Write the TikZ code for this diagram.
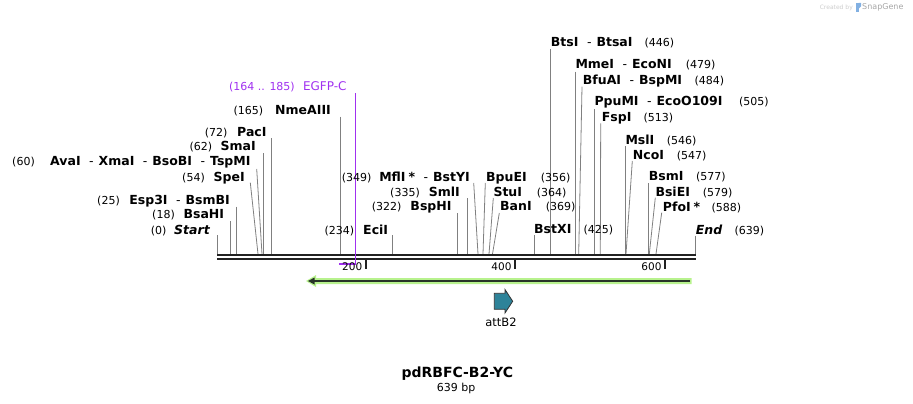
\documentclass[tikz,border=0pt]{standalone}
\usepackage{fontspec}
\setmainfont{DejaVu Sans}
\definecolor{cutgray}{RGB}{128,128,128}
\definecolor{egfp}{RGB}{160,48,240}
\definecolor{lgreen}{RGB}{184,242,142}
\definecolor{dgreen}{RGB}{40,52,40}
\definecolor{teal}{RGB}{46,131,153}
\definecolor{bbone}{RGB}{34,34,34}
\newcommand{\mydash}{\hspace{8.5pt}{\mdseries -}\hspace{5pt}}
\tikzset{
  nm/.style={inner sep=0pt, text height=8.5pt, text depth=0pt, font=\fontsize{12.5}{14}\selectfont\bfseries},
  num/.style={inner sep=0pt, text height=8.5pt, text depth=0pt, font=\fontsize{11}{13}\selectfont},
  cutline/.style={draw=cutgray, line width=0.8pt},
  ticklab/.style={inner sep=0pt, font=\fontsize{10.5}{12}\selectfont},
}
\begin{document}
\begin{tikzpicture}[x=1pt,y=-1pt]
\useasboundingbox (0,0) rectangle (913,404);
% watermark
\node[inner sep=0pt, anchor=east, text=black!20, font=\fontsize{6}{7}\selectfont] (wm1) at (853,7.5) {Created by};
\fill[cyan!60!blue!50] (856,3) rectangle (858.5,12);
\fill[cyan!60!blue!50] (858.5,3) -- (861,3) .. controls (862,5) and (861,8) .. (858.5,9) -- cycle;
\node[inner sep=0pt, anchor=west, text=black!35, font=\fontsize{8}{9}\selectfont] (wm2) at (862,7.5) {SnapGene};

% cut site connectors
\foreach \n/\tx/\ty/\bx in {
  Start/217.3/235/217.3, BsaHI/230.5/221/230.5, Esp/236.3/206.7/236.3,
  SpeI/250.3/182.7/258, AvaI/256.7/169/262, SmaI/263.3/153/263.3,
  PacI/271.3/138/271.3, Nme/340.3/116.7/340.3, EciI/392.3/235/392.3,
  BspHI/457.3/213/457.3, SmlI/467.3/198/467.3, MflI/473.7/183/478,
  BpuEI/485.3/183/483, StuI/493.3/198/489, BanI/499.3/213/492.5,
  BstXI/534.5/235/534.5, BtsI/550.5/49/550.5, MmeI/575.3/71.7/575.3,
  BfuAI/582/86.7/578.7, PpuMI/594.3/109/594.3, FspI/600.7/123.3/600.3,
  MslI/625.3/146/625.3, NcoI/632.3/161/626, BsmI/648.7/183.3/648.7,
  BsiEI/655.3/197.7/649.3, PfoI/661.7/212.7/656, End/695.7/235.7/695.7} {
  \coordinate (t\n) at (\tx,\ty);
  \coordinate (b\n) at (\bx,254);
  \draw[cutline] (t\n) -- (b\n);
}

% EGFP-C feature
\coordinate (eTop) at (355.3,93);
\coordinate (eCorner) at (355.3,263.7);
\coordinate (eLeft) at (339.3,263.7);
\draw[egfp, line width=0.9pt] (eTop) -- (355.3,262.9);
\draw[egfp, line width=1.6pt] (eCorner) -- (eLeft);

% backbone
\draw[bbone, line width=2pt] (217.3,255) -- (695.7,255);
\draw[bbone, line width=2pt] (217.3,259.3) -- (695.7,259.3);
\draw[egfp, line width=0.9pt] (355.3,254) -- (355.3,264.5);

% ticks
\foreach \x/\l in {365.7/200, 515/400, 665/600} {
  \draw[bbone, line width=1.6pt] (\x,259) -- (\x,268.5);
  \node[ticklab, anchor=east] (tick\l) at (\x-3.3,267) {\l};
}

% green arrow (reverse)
\fill[lgreen] (691.7,278) -- (316,278) -- (316,275) -- (306,281) -- (316,287) -- (316,284) -- (691.7,284) -- cycle;
\draw[dgreen, line width=2pt] (690,281) -- (313,281);
\fill[dgreen] (308,281) -- (314.5,277.5) -- (314.5,284.5) -- cycle;

% attB2
\draw[fill=teal, draw=black!80, line width=0.8pt] (494.3,293.3) -- (505,293.3) -- (505,289.5) -- (512.7,301.3) -- (505,313) -- (505,309.3) -- (494.3,309.3) -- cycle;
\node[inner sep=0pt, font=\fontsize{11.5}{13}\selectfont] (attB2) at (501,322) {attB2};

% left-side labels
\node[nm, anchor=east] (nStart) at (210,230) {\itshape Start};
\node[num, anchor=east] (pStart) at (166.7,230) {(0)};
\node[nm, anchor=east] (nBsaHI) at (224.3,214.3) {BsaHI};
\node[num, anchor=east] (pBsaHI) at (175,214.3) {(18)};
\node[nm, anchor=east] (nEsp) at (230,200) {Esp3I\mydash BsmBI};
\node[num, anchor=east] (pEsp) at (120,200) {(25)};
\node[nm, anchor=east] (nSpeI) at (245,177.3) {SpeI};
\node[num, anchor=east] (pSpeI) at (205,177.3) {(54)};
\node[nm, anchor=east] (nAvaI) at (250.7,161.7) {AvaI\mydash XmaI\mydash BsoBI\mydash TspMI};
\node[num, anchor=east] (pAvaI) at (35,161.7) {(60)};
\node[nm, anchor=east] (nSmaI) at (256,146.7) {SmaI};
\node[num, anchor=east] (pSmaI) at (212.3,146.7) {(62)};
\node[nm, anchor=east] (nPacI) at (266.7,132) {PacI};
\node[num, anchor=east] (pPacI) at (227.7,132) {(72)};
\node[nm, anchor=east] (nNme) at (331,110) {NmeAIII};
\node[num, anchor=east] (pNme) at (263.3,110) {(165)};
\node[inner sep=0pt, text height=8.5pt, text depth=0pt, anchor=east, text=egfp, font=\fontsize{12}{14}\selectfont] (nEGFP) at (346.7,86) {EGFP-C};
\node[num, anchor=east, text=egfp] (pEGFP) at (295,86) {(164 .. 185)};
\node[nm, anchor=east] (nEciI) at (388.3,230) {EciI};
\node[num, anchor=east] (pEciI) at (354.3,230) {(234)};
\node[nm, anchor=east] (nMflI) at (470,177) {MflI\hspace{3pt}*\mydash BstYI};
\node[num, anchor=east] (pMflI) at (371.7,177) {(349)};
\node[nm, anchor=east] (nSmlI) at (460,192.3) {SmlI};
\node[num, anchor=east] (pSmlI) at (420,192.3) {(335)};
\node[nm, anchor=east] (nBspHI) at (451.7,206.7) {BspHI};
\node[num, anchor=east] (pBspHI) at (401.7,206.7) {(322)};

% right-side labels
\node[nm, anchor=west] (nBpuEI) at (486,177) {BpuEI};
\node[num, anchor=west] (pBpuEI) at (540.7,177) {(356)};
\node[nm, anchor=west] (nStuI) at (493.3,192.3) {StuI};
\node[num, anchor=west] (pStuI) at (536.7,192.3) {(364)};
\node[nm, anchor=west] (nBanI) at (500,206.7) {BanI};
\node[num, anchor=west] (pBanI) at (545.7,206.7) {(369)};
\node[nm, anchor=west] (nBstXI) at (534,229.5) {BstXI};
\node[num, anchor=west] (pBstXI) at (583.3,229.5) {(425)};
\node[nm, anchor=west] (nBtsI) at (550.7,42.7) {BtsI\mydash BtsaI};
\node[num, anchor=west] (pBtsI) at (644.3,42.7) {(446)};
\node[nm, anchor=west] (nMmeI) at (575.3,64.7) {MmeI\mydash EcoNI};
\node[num, anchor=west] (pMmeI) at (685.7,64.7) {(479)};
\node[nm, anchor=west] (nBfuAI) at (582.7,80) {BfuAI\mydash BspMI};
\node[num, anchor=west] (pBfuAI) at (694.3,80) {(484)};
\node[nm, anchor=west] (nPpuMI) at (594.3,101.7) {PpuMI\mydash EcoO109I};
\node[num, anchor=west] (pPpuMI) at (739,101.7) {(505)};
\node[nm, anchor=west] (nFspI) at (601.7,117.3) {FspI};
\node[num, anchor=west] (pFspI) at (643.3,117.3) {(513)};
\node[nm, anchor=west] (nMslI) at (625.3,140) {MslI};
\node[num, anchor=west] (pMslI) at (666.7,140) {(546)};
\node[nm, anchor=west] (nNcoI) at (632.7,155.3) {NcoI};
\node[num, anchor=west] (pNcoI) at (676.7,155.3) {(547)};
\node[nm, anchor=west] (nBsmI) at (648.7,176.7) {BsmI};
\node[num, anchor=west] (pBsmI) at (696,176.7) {(577)};
\node[nm, anchor=west] (nBsiEI) at (655.3,192.3) {BsiEI};
\node[num, anchor=west] (pBsiEI) at (702.7,192.3) {(579)};
\node[nm, anchor=west] (nPfoI) at (662.7,207.3) {PfoI\hspace{3pt}*};
\node[num, anchor=west] (pPfoI) at (711.3,207.3) {(588)};
\node[nm, anchor=west] (nEnd) at (695.7,230) {\itshape End};
\node[num, anchor=west] (pEnd) at (734.3,230) {(639)};

% title
\node[inner sep=0pt, font=\fontsize{14}{16}\selectfont\bfseries] (title) at (457.3,373.3) {pdRBFC-B2-YC};
\node[inner sep=0pt, font=\fontsize{11}{13}\selectfont] (size) at (456.2,388.3) {639 bp};
\end{tikzpicture}
\end{document}
